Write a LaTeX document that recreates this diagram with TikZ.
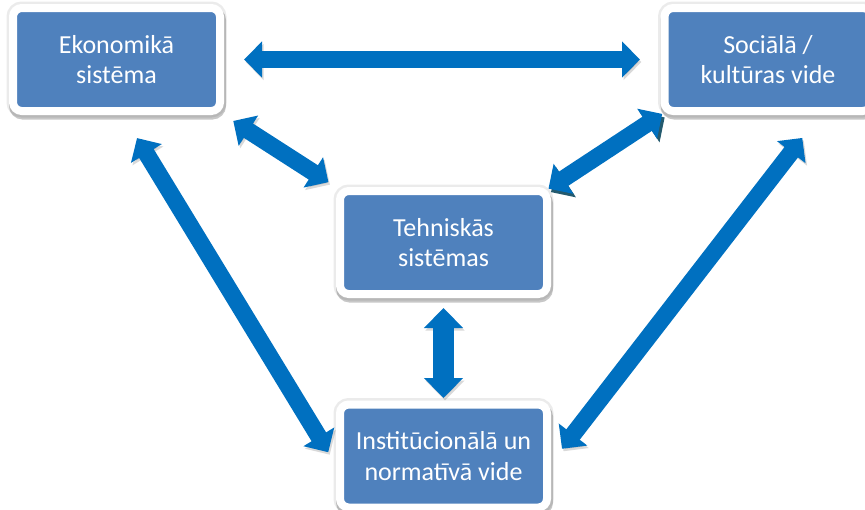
\documentclass[tikz,border=0pt]{standalone}
\usepackage{fontspec}
\setmainfont{Carlito}
\usetikzlibrary{arrows.meta,positioning,shadows}
\definecolor{boxblue}{HTML}{4F81BD}
\definecolor{arrowblue}{HTML}{0070C0}
\definecolor{shadowteal}{HTML}{245A6E}

\begin{document}
\begin{tikzpicture}[node distance=2cm,on grid,
    box/.style={rectangle,rounded corners=5pt,fill=boxblue,draw=white,line width=0.16cm,
      minimum width=4.14cm,minimum height=2.06cm,align=center,text=white,
      font=\fontsize{14.8}{17.5}\selectfont,
      general shadow={draw=black,fill=black,line width=0.26cm,opacity=0.08},
      drop shadow={draw=black,fill=black,line width=0.2cm,shadow xshift=0.02cm,
        shadow yshift=-0.07cm,opacity=0.22}}]
  \useasboundingbox (0,0) rectangle (17.3,-10.18);
  \node[box] (eko)              at (2.33,-1.19)              {Ekonomikā\\sistēma};
  \node[box] (soc)  [right=13.03cm of eko]                   {Sociālā /\\kultūras vide};
  \node[box] (teh)  [below right=3.66cm and 6.54cm of eko]  {Tehniskās\\sistēmas};
  \node[box] (inst) [below=4.27cm of teh]                    {Institūcionālā un\\normatīvā vide};

  \tikzset{bigtip/.tip={Triangle[width=0.7cm,length=0.36cm]}}
  \tikzset{widetip/.tip={Triangle[width=0.76cm,length=0.4cm]}}
  \tikzset{link/.style={bigtip-bigtip,draw=arrowblue,line width=0.34cm,
      preaction={draw=black,opacity=0.15,transform canvas={shift={(0.03,-0.05)}}}}}
  \tikzset{darklink/.style={bigtip-bigtip,draw=arrowblue,line width=0.34cm,
      preaction={draw=shadowteal,transform canvas={shift={(0.05,-0.07)}}}}}
  \path (eko)                  edge [link, shorten <=0.4cm,  shorten >=0.41cm] (soc)
        (eko.south east)       edge [link, shorten <=0.22cm, shorten >=0.18cm] (teh.north west)
        (teh.north east)       edge [darklink, shorten <=-0.06cm, shorten >=-0.04cm] (soc.south west)
        (teh)                  edge [link, widetip-widetip, line width=0.42cm, shorten <=0.2cm, shorten >=0.05cm] (inst)
        ([xshift=0.13cm]eko.south) edge [link, shorten <=0.54cm, shorten >=0.3cm] ([yshift=-0.18cm]inst.west)
        ([xshift=1.04cm]soc.south) edge [link, shorten <=0.58cm, shorten >=0.36cm] ([yshift=-0.14cm]inst.east);
\end{tikzpicture}
\end{document}
